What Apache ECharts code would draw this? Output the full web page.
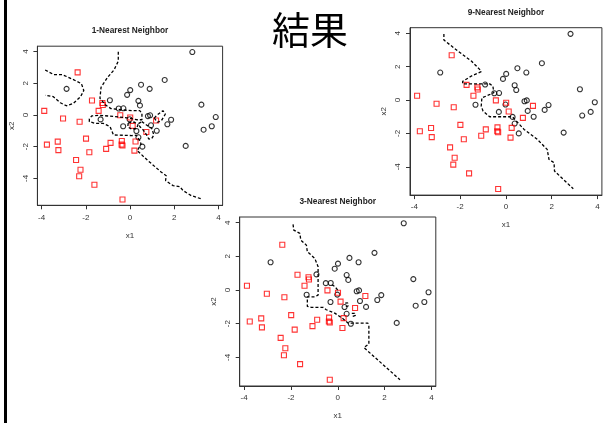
<!DOCTYPE html>
<html>
<head>
<meta charset="utf-8">
<script src="https://cdn.jsdelivr.net/npm/echarts@6/dist/echarts.min.js"></script>
<style>
  html, body { margin: 0; padding: 0; background: #fff; }
  #chart { width: 611px; height: 423px; }
</style>
</head>
<body>
<div id="chart"></div>
<script>
// Training points, class "o" (black circles)
const classCircle = [
  [2.82, 3.97], [1.57, 2.21], [0.50, 1.91], [0.89, 1.65], [0.01, 1.57],
  [-0.13, 1.27], [-2.87, 1.65], [-0.91, 0.93], [0.38, 0.89], [0.45, 0.60],
  [3.23, 0.65], [-0.30, 0.42], [-0.51, 0.41], [0.91, -0.02], [0.81, -0.07],
  [1.86, -0.30], [3.88, -0.13], [-1.33, -0.28], [-0.02, -0.27], [1.69, -0.59],
  [0.95, -0.65], [-0.31, -0.71], [1.21, -1.00], [0.29, -1.01], [3.33, -0.93],
  [3.70, -0.71], [0.38, -1.41], [0.56, -2.00], [2.52, -1.95]
];

// Training points, class "s" (red squares)
const classSquare = [
  [-2.37, 2.69], [-1.72, 0.91], [-1.25, 0.76], [-1.23, 0.63], [-3.88, 0.26],
  [-1.42, 0.26], [-0.44, -0.02], [0.01, -0.16], [-3.03, -0.22], [-2.28, -0.43],
  [1.18, -0.35], [0.12, -0.69], [0.74, -1.07], [-1.99, -1.49], [-3.27, -1.68],
  [-3.76, -1.87], [-3.24, -2.22], [-0.88, -1.76], [-1.08, -2.14], [-1.84, -2.35],
  [-0.37, -1.64], [-0.38, -1.87], [-0.34, -1.93], [0.25, -1.67], [0.20, -2.25],
  [-2.44, -2.84], [-2.24, -3.46], [-2.30, -3.87], [-1.61, -4.40], [-0.34, -5.33]
];

// Tick positions shared by both axes
const tickValues = [-4, -2, 0, 2, 4];

// Panel titles
const panelTitles = ['1-Nearest Neighbor', '3-Nearest Neighbor', '9-Nearest Neighbor'];
const pageTitle = '結果';

// Decision boundaries (x1, x2) for each k, as polyline pieces
const boundaryK1 = [
  [[-3.84, 2.84], [-3.45, 2.55], [-3.07, 2.55], [-2.65, 2.29], [-2.20, 1.98], [-2.09, 1.55],
   [-2.24, 1.14], [-2.58, 0.72], [-2.88, 0.58], [-3.15, 0.77], [-3.48, 1.16], [-3.84, 1.24]],
  [[-0.53, 3.99], [-0.53, 3.40], [-0.72, 2.85], [-1.01, 2.38], [-1.31, 1.75], [-1.36, 1.05],
   [-1.10, 0.62], [-0.86, 0.40], [-0.33, 0.32], [0.09, 0.27], [0.44, 0.27], [0.54, 0.10],
   [0.54, -0.30], [0.30, -0.30], [0.05, -0.22], [-0.15, -0.18], [-0.68, -0.10], [-1.36, -0.02],
   [-1.73, -0.06], [-1.84, -0.25], [-1.84, -0.42], [-1.58, -0.53], [-1.21, -0.53], [-0.90, -0.74],
   [-0.75, -1.26], [0.08, -1.30], [0.29, -1.28], [0.44, -1.62], [0.50, -1.83], [0.33, -2.25],
   [0.36, -2.35], [0.81, -2.88], [1.42, -3.61], [1.64, -3.83], [1.61, -4.14], [1.95, -4.46],
   [2.25, -4.52], [2.40, -4.77], [2.77, -5.09], [3.00, -5.19], [3.23, -5.30]],
  [[-0.08, -0.50], [0.20, -0.45], [0.36, -0.62], [0.30, -0.85], [0.08, -0.90], [-0.10, -0.75],
   [-0.08, -0.50]],
  [[0.53, -0.42], [0.75, -0.63], [0.98, -0.84], [1.08, -1.26], [0.98, -1.50], [0.85, -1.52],
   [0.75, -1.26], [0.60, -0.95], [0.45, -0.74], [0.38, -0.55], [0.53, -0.42]],
  [[1.10, -0.20], [1.19, -0.04], [1.49, 0.27], [1.60, 0.06], [1.42, -0.36], [1.24, -0.46], [1.10, -0.20]]
];

const boundaryK3 = [
  [[-1.91, 3.90], [-1.88, 3.56], [-1.62, 3.37], [-1.58, 2.97], [-1.34, 2.67], [-1.30, 2.28],
   [-0.98, 1.88], [-0.84, 1.39], [-0.84, -0.30], [-0.98, -0.40], [-1.30, -0.40], [-1.30, -0.97],
   [-1.13, -1.03], [-0.63, -1.03], [-0.49, -1.17], [-0.13, -1.37], [0.20, -1.68], [0.45, -1.97],
   [1.29, -1.97], [1.33, -2.10], [1.33, -3.20], [1.12, -3.42], [2.66, -5.33]],
  [[-0.25, 0.32], [-0.12, 0.20], [-0.05, 0.08], [0.02, -0.05]],
  [[0.32, -0.78], [0.42, -0.76], [0.48, -0.85], [0.44, -0.96], [0.33, -0.97]],
  [[0.60, -1.38], [0.72, -1.38], [0.76, -1.50], [0.70, -1.60], [0.60, -1.58]]
];

const boundaryK9 = [
  [[-2.71, 3.96], [-2.71, 3.60], [-2.10, 2.94], [-1.51, 2.34], [-1.15, 1.84], [-1.08, 1.70],
   [-1.51, 1.44], [-1.89, 1.12], [-1.89, 0.97], [-0.71, 0.97], [-0.57, 0.84], [-0.53, 0.44],
   [-0.86, 0.24], [-1.05, 0.14], [-1.08, -0.36], [-1.00, -0.66], [-0.71, -1.00], [0.28, -1.00],
   [0.79, -1.76], [1.37, -2.36], [1.80, -2.96], [1.86, -3.05], [1.88, -3.56], [2.10, -3.76],
   [2.12, -4.26], [2.94, -5.32]]
];

const xRange = [-4.19, 4.19];
const yRange = [-5.70, 4.34];

// Plot regions: [left, top, width, height]
const panels = [
  { box: [37.4, 46.2, 185.2, 159.1], boundary: boundaryK1 },
  { box: [239.7, 217.0, 196.1, 169.0], boundary: boundaryK3 },
  { box: [410.0, 27.7, 191.9, 167.4], boundary: boundaryK9 }
];

const axisColor = '#333';
const labelFont = { fontFamily: 'Liberation Sans, Arial, sans-serif', fontSize: 8, color: '#333' };

const grids = [], xAxes = [], yAxes = [], series = [], graphics = [];

panels.forEach((p, i) => {
  const [l, t, w, h] = p.box;
  grids.push({ left: l, top: t, width: w, height: h, show: true, borderColor: axisColor, borderWidth: 1, backgroundColor: 'transparent' });
  xAxes.push({
    type: 'value', gridIndex: i, min: xRange[0], max: xRange[1],
    axisLine: { show: true, onZero: false, lineStyle: { color: axisColor, width: 1 } },
    axisTick: { show: true, inside: false, length: 4, customValues: tickValues, lineStyle: { color: axisColor } },
    axisLabel: { show: true, customValues: tickValues, margin: 8, ...labelFont },
    splitLine: { show: false },
    name: 'x1', nameLocation: 'middle', nameGap: 26, nameTextStyle: { ...labelFont }
  });
  yAxes.push({
    type: 'value', gridIndex: i, min: yRange[0], max: yRange[1],
    axisLine: { show: true, onZero: false, lineStyle: { color: axisColor, width: 1 } },
    axisTick: { show: true, inside: false, length: 4, customValues: tickValues, lineStyle: { color: axisColor } },
    axisLabel: { show: true, customValues: tickValues, rotate: 90, margin: 8, ...labelFont },
    splitLine: { show: false },
    name: 'x2', nameLocation: 'middle', nameGap: 22, nameTextStyle: { ...labelFont }
  });

  p.boundary.forEach(seg => {
    series.push({
      type: 'line', xAxisIndex: i, yAxisIndex: i, data: seg,
      showSymbol: false, symbol: 'none', silent: true,
      lineStyle: { color: '#000', width: 1.3, type: [3, 2] }
    });
  });
  series.push({
    type: 'scatter', xAxisIndex: i, yAxisIndex: i, data: classCircle,
    symbol: 'circle', symbolSize: 5, silent: true,
    itemStyle: { color: 'rgba(0,0,0,0)', borderColor: '#000', borderWidth: 1.1 }
  });
  series.push({
    type: 'scatter', xAxisIndex: i, yAxisIndex: i, data: classSquare,
    symbol: 'rect', symbolSize: 5, silent: true,
    itemStyle: { color: 'rgba(0,0,0,0)', borderColor: '#ff0000', borderWidth: 1.1 }
  });

  graphics.push({
    type: 'text', x: l + w / 2, y: t - 15,
    style: { text: panelTitles[i], fill: '#222', align: 'center', verticalAlign: 'middle',
             font: 'bold 8.3px "Liberation Sans", Arial, sans-serif' }
  });
});

// Page heading and slide edge
graphics.push({
  type: 'text', x: 310, y: 30,
  style: { text: pageTitle, fill: '#000', align: 'center', verticalAlign: 'middle',
           font: '38px "Noto Sans CJK JP", sans-serif' }
});
graphics.push({ type: 'rect', shape: { x: 4, y: 0, width: 3, height: 423 }, style: { fill: '#000' } });

const chart = echarts.init(document.getElementById('chart'), null, { renderer: 'canvas' });
chart.setOption({
  animation: false,
  backgroundColor: '#fff',
  grid: grids,
  xAxis: xAxes,
  yAxis: yAxes,
  series: series,
  graphic: graphics
});
</script>
</body>
</html>
